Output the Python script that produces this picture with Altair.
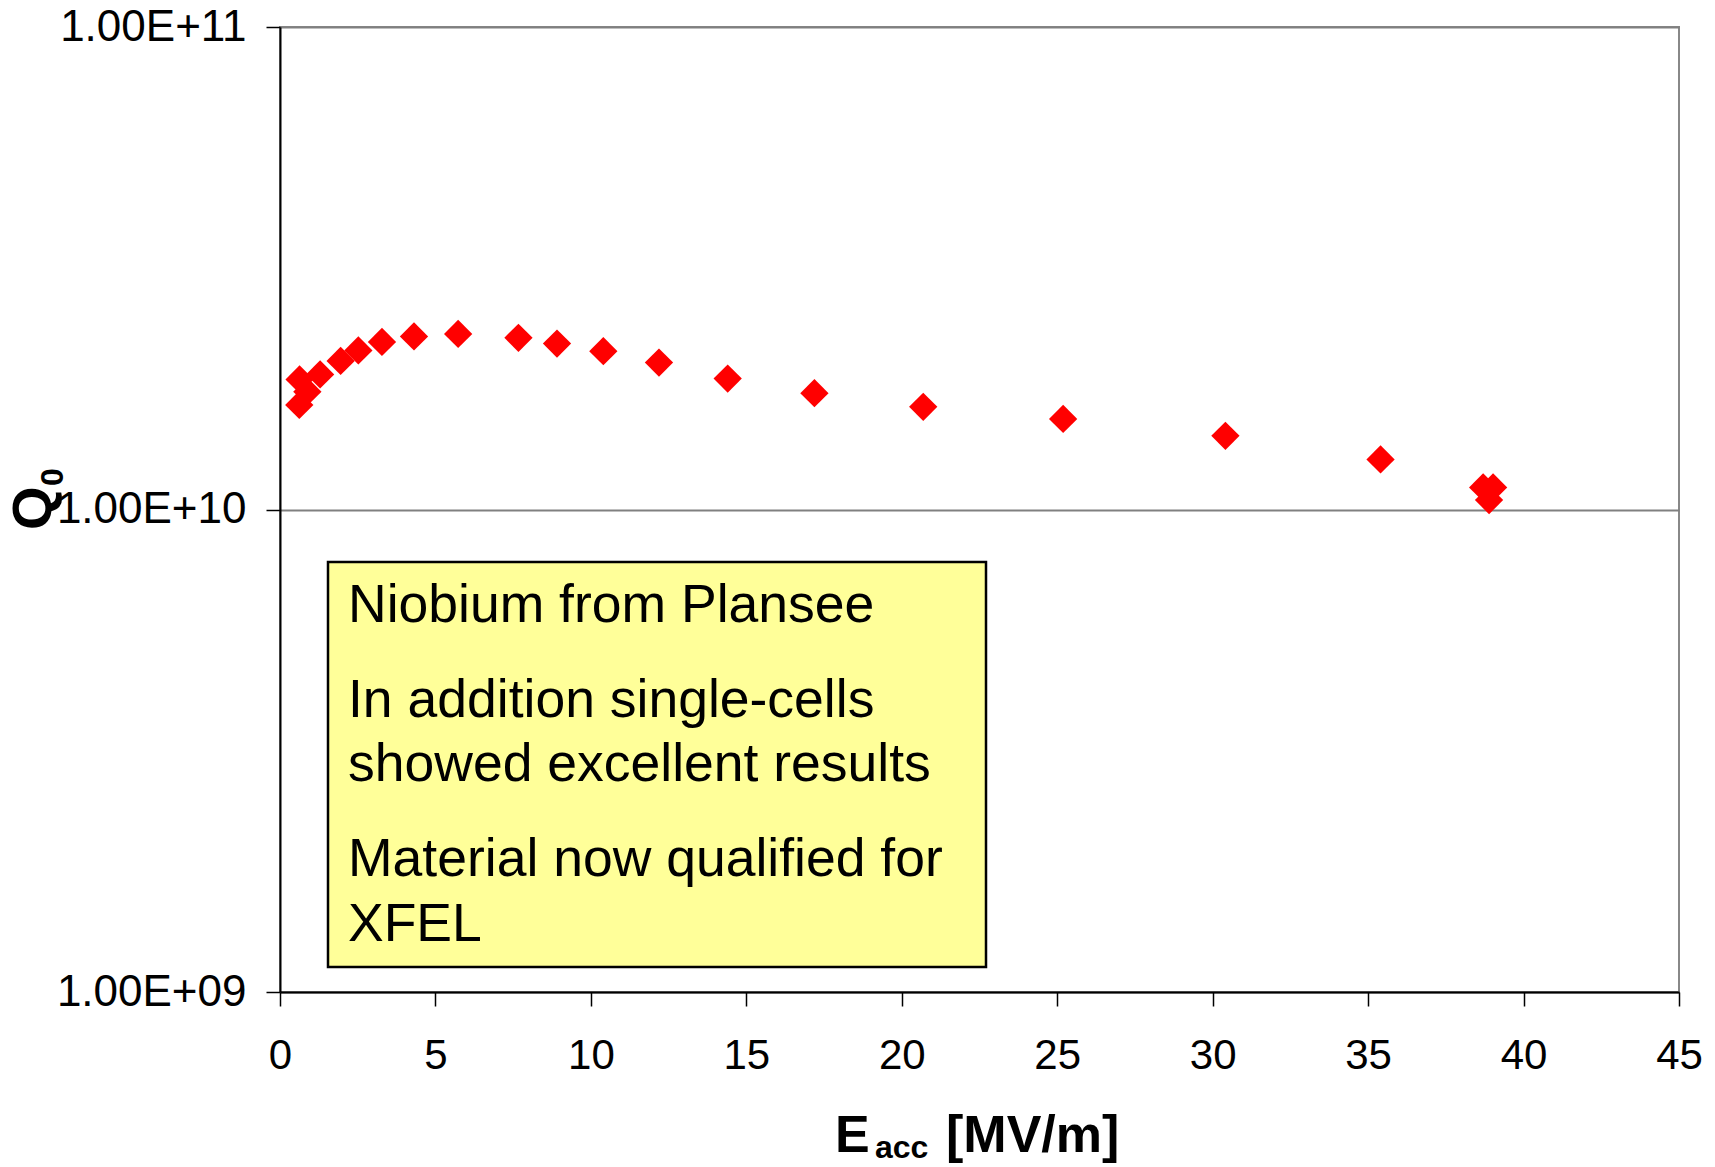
import altair as alt
import pandas as pd

# ---- data ----
E_acc = [0.63, 0.88, 0.62, 1.29, 1.95, 2.52, 3.28, 4.31, 5.73, 7.67, 8.91,
         10.40, 12.19, 14.40, 17.19, 20.69, 25.19, 30.41, 35.40, 38.70, 39.02, 38.89]
Q0 = [1.860e10, 1.755e10, 1.647e10, 1.905e10, 2.032e10, 2.136e10, 2.225e10,
      2.284e10, 2.311e10, 2.269e10, 2.207e10, 2.129e10, 2.016e10, 1.868e10,
      1.742e10, 1.632e10, 1.541e10, 1.421e10, 1.270e10, 1.111e10, 1.111e10, 1.046e10]

x_ticks = [0, 5, 10, 15, 20, 25, 30, 35, 40, 45]
y_ticks = [1e9, 1e10, 1e11]
y_tick_labels = ["1.00E+09", "1.00E+10", "1.00E+11"]

note_lines = ["Niobium from Plansee",
              "In addition single-cells",
              "showed excellent results",
              "Material now qualified for",
              "XFEL"]
note_baselines = [595, 690, 754, 849, 914]

FONT = "Liberation Sans"
W, H = 1399, 965

df = pd.DataFrame({"E": E_acc, "Q": Q0})
one = pd.DataFrame({"a": [0]})

# label expression built from the tick arrays
expr = "'" + y_tick_labels[-1] + "'"
for v, lab in reversed(list(zip(y_ticks[:-1], y_tick_labels[:-1]))):
    expr = f"datum.value < {v * 3.16:.6g} ? '{lab}' : " + expr

points = alt.Chart(df).mark_point(
    shape="diamond", filled=True, size=800, color="#FF0000", opacity=1, strokeWidth=0
).encode(
    x=alt.X("E:Q",
            scale=alt.Scale(domain=[0, 45], nice=False, zero=False),
            axis=alt.Axis(values=x_ticks, title=None, grid=False,
                          labelFont=FONT, labelFontSize=42, labelColor="black",
                          labelPadding=29, labelFlush=False, labelOverlap=False,
                          labelLimit=400,
                          tickColor="black", tickSize=14, tickWidth=1.5,
                          domainColor="black", domainWidth=2)),
    y=alt.Y("Q:Q",
            scale=alt.Scale(type="log", domain=[1e9, 1e11], nice=False),
            axis=alt.Axis(values=y_ticks, title=None, labelExpr=expr,
                          grid=True, gridColor="#808080", gridWidth=2,
                          labelFont=FONT, labelFontSize=44, labelColor="black",
                          labelPadding=20, labelFlush=False, labelOverlap=False,
                          labelLimit=400,
                          tickColor="black", tickSize=14, tickWidth=1.5,
                          domainColor="black", domainWidth=2)),
)

box = alt.Chart(one).mark_rect(
    fill="#FFFF99", stroke="black", strokeWidth=2.5
).encode(x=alt.value(48), x2=alt.value(706), y=alt.value(535), y2=alt.value(940))

layers = [box]
for line, yb in zip(note_lines, note_baselines):
    layers.append(alt.Chart(one).mark_text(
        text=line, font=FONT, fontSize=53.5, color="black",
        align="left", baseline="alphabetic"
    ).encode(x=alt.value(68), y=alt.value(yb)))

# axis titles with subscripts
title_parts = [
    ("E", 52, 555, 1125, 0),
    ("acc", 32, 595, 1131, 0),
    ("[MV/m]", 52, 666, 1125, 0),
    ("Q", 56, -229, 503, 270),
    ("0", 32, -217, 459, 270),
]
for txt, fs, px, py, ang in title_parts:
    layers.append(alt.Chart(one).mark_text(
        text=txt, font=FONT, fontSize=fs, fontWeight="bold", color="black",
        align="left", baseline="alphabetic", angle=ang
    ).encode(x=alt.value(px), y=alt.value(py)))

chart = alt.layer(*layers, points).properties(
    width=W, height=H,
    autosize=alt.AutoSizeParams(type="none"),
    padding={"left": 280, "top": 27, "right": 36, "bottom": 175},
    background="white",
).configure_view(stroke="#888888", strokeWidth=2)

chart.save("out.html", embed_options={"renderer": "svg", "actions": False})
